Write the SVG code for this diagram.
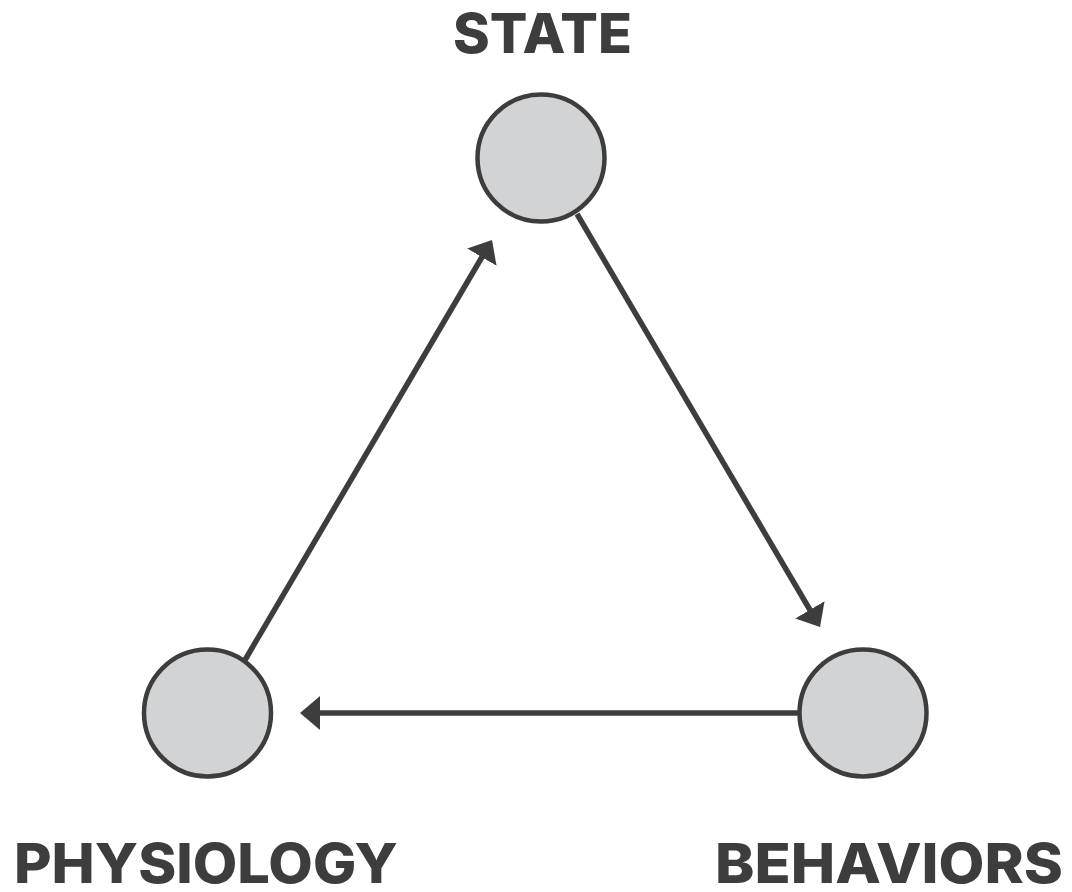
<svg xmlns="http://www.w3.org/2000/svg" width="1072" height="892" viewBox="0 0 1072 892">
<style>
.node{fill:#d1d3d4;stroke:#3d3d3d;stroke-width:4.5}
.lbl{font-family:Inter,"Liberation Sans",sans-serif;font-weight:800;font-size:55px;fill:#3d3d3d}
.edge{stroke:#3d3d3d;stroke-width:5.5;fill:none}
</style>
<defs>
<marker id="arr" viewBox="0 0 20 34" refX="2" refY="17" markerWidth="20" markerHeight="34" markerUnits="userSpaceOnUse" orient="auto">
<path d="M0,0 L20,17 L0,34 z" fill="#3d3d3d"/>
</marker>
</defs>
<rect width="1072" height="892" fill="#ffffff"/>
<g id="connectors">
<line class="edge" x1="577" y1="214" x2="810.9" y2="611.5" marker-end="url(#arr)"/>
<line class="edge" x1="245" y1="660" x2="482.9" y2="255.5" marker-end="url(#arr)"/>
<line class="edge" x1="798" y1="713" x2="318" y2="713" marker-end="url(#arr)"/>
</g>
<g id="state">
<circle class="node" cx="541" cy="158" r="63.5"/>
<text class="lbl" x="453" y="53" textLength="179" lengthAdjust="spacingAndGlyphs">STATE</text>
</g>
<g id="physiology">
<circle class="node" cx="207.5" cy="713" r="63.5"/>
<text class="lbl" x="14" y="883" textLength="384" lengthAdjust="spacingAndGlyphs">PHYSIOLOGY</text>
</g>
<g id="behaviors">
<circle class="node" cx="863" cy="713" r="63.5"/>
<text class="lbl" x="715" y="883" textLength="348" lengthAdjust="spacingAndGlyphs">BEHAVIORS</text>
</g>
</svg>
